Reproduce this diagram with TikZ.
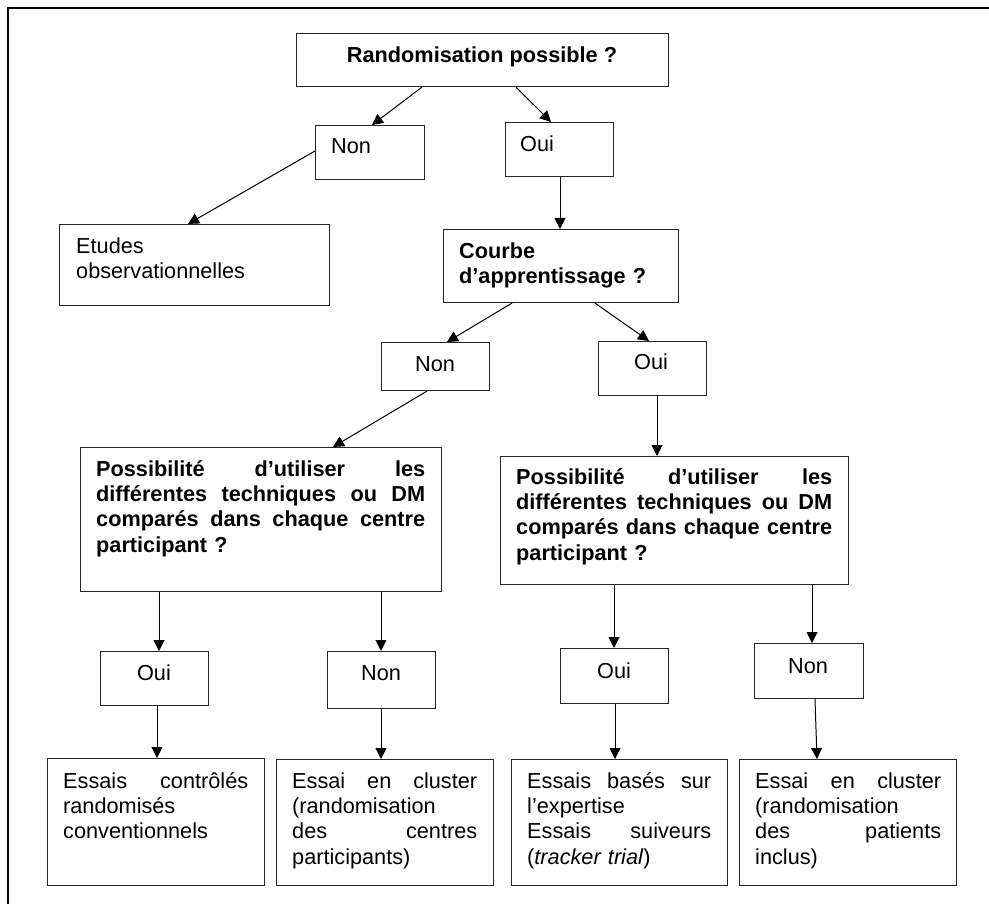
\documentclass[tikz,border=0pt]{standalone}
\usepackage{fontspec}
\setmainfont{Liberation Sans}
\usetikzlibrary{arrows.meta}
\newcommand\jline[2]{\makebox[#1][s]{\spaceskip=0pt\relax\xspaceskip=0pt\relax #2}}
\begin{document}
\begin{tikzpicture}[x=1pt,y=-1pt,
  box/.style={draw=black!85, line width=1.1pt, rectangle, inner sep=0pt, anchor=north west},
  lbl/.style={inner sep=0pt, font=\fontsize{21.7}{25.3}\selectfont},
  lblb/.style={inner sep=0pt, font=\fontsize{21.7}{25.3}\selectfont\bfseries},
  para/.style={lbl, anchor=north west, align=left},
  parab/.style={lblb, anchor=north west, align=left},
  arr/.style={line width=1pt, -{Triangle[length=11pt,width=11pt]}}]
\useasboundingbox (0,0) rectangle (989,904);
% outer frame (top and left sides visible)
\draw[line width=2pt] (8,906) -- (8,8) -- (991,8);

% boxes
\node[box, minimum width=372pt, minimum height=53pt] (top) at (296,33) {};
\node[box, minimum width=109pt, minimum height=54pt] (non1) at (315,125) {};
\node[box, minimum width=108pt, minimum height=54pt] (oui1) at (505,122) {};
\node[box, minimum width=270pt, minimum height=81pt] (etudes) at (59,224) {};
\node[box, minimum width=235pt, minimum height=73pt] (courbe) at (443,229) {};
\node[box, minimum width=108pt, minimum height=48pt] (non2) at (381,342) {};
\node[box, minimum width=108pt, minimum height=54pt] (oui2) at (598,341) {};
\node[box, minimum width=361pt, minimum height=144pt] (poss1) at (80,447) {};
\node[box, minimum width=348pt, minimum height=128pt] (poss2) at (500,456) {};
\node[box, minimum width=108pt, minimum height=54pt] (oui3) at (100,651) {};
\node[box, minimum width=108pt, minimum height=57pt] (non3) at (327,651) {};
\node[box, minimum width=108pt, minimum height=55pt] (oui4) at (560,648) {};
\node[box, minimum width=109pt, minimum height=55pt] (non4) at (754,643) {};
\node[box, minimum width=217pt, minimum height=127pt] (essais1) at (47,758) {};
\node[box, minimum width=217pt, minimum height=126pt] (cluster1) at (276,759) {};
\node[box, minimum width=216pt, minimum height=126pt] (essais2) at (511,759) {};
\node[box, minimum width=217pt, minimum height=126pt] (cluster2) at (739,759) {};

% texts
\node[lblb, anchor=base] (ttop) at (482,63) {Randomisation possible ?};
\node[lbl, anchor=base west] (tnon1) at (331,154) {Non};
\node[lbl, anchor=base west] (toui1) at (520,152) {Oui};
\node[para, text width=250pt] (tetudes) at (76,235.3) {\strut Etudes\\observationnelles};
\node[parab, text width=215pt] (tcourbe) at (459,240.3) {\strut Courbe\\d’apprentissage ?};
\node[lbl, anchor=base] (tnon2) at (435,371) {Non};
\node[lbl, anchor=base] (toui2) at (651,370) {Oui};
\node[parab, text width=330pt] (tposs1) at (96,458.3) {\strut\jline{329pt}{Possibilité d’utiliser les}\\\jline{329pt}{différentes techniques ou DM}\\\jline{329pt}{comparés dans chaque centre}\\participant ?};
\node[parab, text width=317pt] (tposs2) at (516,466.3) {\strut\jline{316pt}{Possibilité d’utiliser les}\\\jline{316pt}{différentes techniques ou DM}\\\jline{316pt}{comparés dans chaque centre}\\participant ?};
\node[lbl, anchor=base] (toui3) at (154,680) {Oui};
\node[lbl, anchor=base] (tnon3) at (381,680) {Non};
\node[lbl, anchor=base] (toui4) at (614,678) {Oui};
\node[lbl, anchor=base] (tnon4) at (808,673) {Non};
\node[para, text width=186pt] (tessais1) at (63,770.3) {\strut\jline{185pt}{Essais contrôlés}\\randomisés\\conventionnels};
\node[para, text width=186pt] (tcluster1) at (292,770.3) {\strut\jline{185pt}{Essai en cluster}\\(randomisation\\\jline{185pt}{des centres}\\participants)};
\node[para, text width=185pt] (tessais2) at (527,770.3) {\strut\jline{184pt}{Essais basés sur}\\l’expertise\\\jline{184pt}{Essais suiveurs}\\(\textit{tracker trial})};
\node[para, text width=187pt] (tcluster2) at (755,770.3) {\strut\jline{186pt}{Essai en cluster}\\(randomisation\\\jline{186pt}{des patients}\\inclus)};

% connectors
\draw[arr] ([xshift=126pt]top.south west) -- ([xshift=57pt]non1.north west);
\draw[arr] ([xshift=220pt]top.south west) -- ([xshift=46pt]oui1.north west);
\draw[arr] ([yshift=-26pt]non1.north west) -- ([xshift=129pt]etudes.north west);
\draw[arr] ([xshift=55pt]oui1.south west) -- ([xshift=117pt]courbe.north west);
\draw[arr] ([xshift=69pt]courbe.south west) -- ([xshift=66pt]non2.north west);
\draw[arr] ([xshift=152pt]courbe.south west) -- ([xshift=51pt]oui2.north west);
\draw[arr] ([xshift=46pt]non2.south west) -- ([xshift=253pt]poss1.north west);
\draw[arr] ([xshift=59pt]oui2.south west) -- ([xshift=157pt]poss2.north west);
\draw[arr] ([xshift=79pt]poss1.south west) -- ([xshift=59pt]oui3.north west);
\draw[arr] ([xshift=301pt]poss1.south west) -- ([xshift=54pt]non3.north west);
\draw[arr] ([xshift=114pt]poss2.south west) -- ([xshift=54pt]oui4.north west);
\draw[arr] ([xshift=312pt]poss2.south west) -- ([xshift=58pt]non4.north west);
\draw[arr] ([xshift=57pt]oui3.south west) -- ([xshift=110pt]essais1.north west);
\draw[arr] ([xshift=54pt]non3.south west) -- ([xshift=105pt]cluster1.north west);
\draw[arr] ([xshift=55pt]oui4.south west) -- ([xshift=104pt]essais2.north west);
\draw[arr] ([xshift=61pt]non4.south west) -- ([xshift=78pt]cluster2.north west);
\end{tikzpicture}
\end{document}
